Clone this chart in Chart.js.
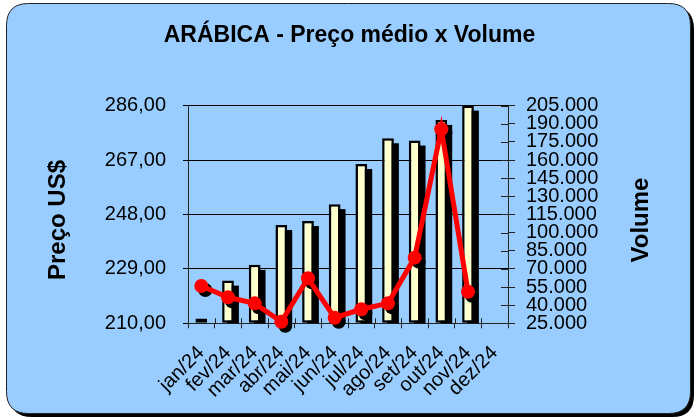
<!DOCTYPE html>
<html>
<head>
<meta charset="utf-8">
<script src="https://cdn.jsdelivr.net/npm/chart.js@4/dist/chart.umd.min.js"></script>
<style>
  html, body { margin: 0; padding: 0; background: #fff; }
  #wrap { width: 694px; height: 420px; }
</style>
</head>
<body>
<div id="wrap"><canvas id="chart" width="694" height="420"></canvas></div>
<script>
// Data
const meses = ['jan/24', 'fev/24', 'mar/24', 'abr/24', 'mai/24', 'jun/24',
               'jul/24', 'ago/24', 'set/24', 'out/24', 'nov/24', 'dez/24'];
const precoMedio = [211.7, 224.9, 230.4, 244.3, 245.7, 251.6, 265.6, 274.6, 273.8, 281.0, 286.0, null];
const volume = [55900, 46500, 41500, 26300, 62200, 29600, 36600, 41500, 79300, 185500, 51100, null];
const precoEixo = { min: 210, max: 286, step: 19 };
const volumeEixo = { min: 25000, max: 205000, step: 15000 };

const FONT = '"Liberation Sans", Arial, sans-serif';

function fmtPreco(v) {
  return v.toFixed(2).replace('.', ',');
}
function fmtVolume(v) {
  return Math.round(v).toString().replace(/\B(?=(\d{3})+(?!\d))/g, '.');
}

function roundRect(ctx, x, y, w, h, r) {
  ctx.beginPath();
  ctx.moveTo(x + r, y);
  ctx.lineTo(x + w - r, y);
  ctx.quadraticCurveTo(x + w, y, x + w, y + r);
  ctx.lineTo(x + w, y + h - r);
  ctx.quadraticCurveTo(x + w, y + h, x + w - r, y + h);
  ctx.lineTo(x + r, y + h);
  ctx.quadraticCurveTo(x, y + h, x, y + h - r);
  ctx.lineTo(x, y + r);
  ctx.quadraticCurveTo(x, y, x + r, y);
  ctx.closePath();
}

// Blue rounded panel behind everything
const panelPlugin = {
  id: 'panel',
  beforeDraw(chart) {
    const ctx = chart.ctx;
    ctx.save();
    ctx.fillStyle = '#fff';
    ctx.fillRect(0, 0, chart.width, chart.height);
    roundRect(ctx, 10, 7, 684, 410, 22);
    ctx.fillStyle = '#000';
    ctx.fill();
    roundRect(ctx, 6.5, 3.5, 684, 410, 22);
    ctx.fillStyle = '#99ccff';
    ctx.fill();
    ctx.lineWidth = 1;
    ctx.strokeStyle = '#222';
    ctx.stroke();
    ctx.restore();
  }
};

// Hard black drop shadow: bars get an offset block, markers use canvas shadow
const shadowPlugin = {
  id: 'dropShadow',
  beforeDatasetDraw(chart, args) {
    const ds = chart.data.datasets[args.index];
    const ctx = chart.ctx;
    ctx.save();
    if (!ds.shadow) return;
    if (args.meta.type === 'bar') {
      const area = chart.chartArea;
      ctx.save();
      ctx.beginPath();
      ctx.rect(area.left, area.top, area.right - area.left, area.bottom - area.top);
      ctx.clip();
      ctx.fillStyle = '#000';
      args.meta.data.forEach(bar => {
        const p = bar.getProps(['x', 'y', 'base', 'width'], true);
        if (p.y == null || isNaN(p.y)) return;
        ctx.fillRect(p.x - p.width / 2 + ds.shadow, p.y + ds.shadow, p.width, p.base - p.y);
      });
      ctx.restore();
    } else {
      ctx.shadowColor = '#000';
      ctx.shadowBlur = 0;
      ctx.shadowOffsetX = ds.shadow;
      ctx.shadowOffsetY = ds.shadow;
    }
  },
  afterDatasetDraw(chart) {
    chart.ctx.restore();
  }
};

// Inner half of the crossing tick marks + rotated axis titles
const axisPlugin = {
  id: 'axisExtras',
  afterDraw(chart) {
    const ctx = chart.ctx;
    const area = chart.chartArea;
    const y2 = chart.scales.y2, x = chart.scales.x;
    ctx.save();
    ctx.strokeStyle = '#222';
    ctx.lineWidth = 1;
    ctx.beginPath();
    y2.ticks.forEach((t, i) => {
      const py = Math.round(y2.getPixelForTick(i)) + 0.5;
      ctx.moveTo(area.right - 7, py);
      ctx.lineTo(area.right, py);
    });
    for (let i = 0; i <= meses.length; i++) {
      const px = Math.round(x.left + (x.width / meses.length) * i) + 0.5;
      ctx.moveTo(px, area.bottom);
      ctx.lineTo(px, area.bottom - 5);
    }
    ctx.stroke();

    ctx.fillStyle = '#000';
    ctx.font = 'bold 24px ' + FONT;
    ctx.textAlign = 'center';
    ctx.textBaseline = 'middle';
    ctx.translate(58, 220);
    ctx.rotate(-Math.PI / 2);
    ctx.fillText('Preço US$', 0, 0);
    ctx.restore();

    ctx.save();
    ctx.fillStyle = '#000';
    ctx.font = 'bold 24px ' + FONT;
    ctx.textAlign = 'center';
    ctx.textBaseline = 'middle';
    ctx.translate(641, 220);
    ctx.rotate(-Math.PI / 2);
    ctx.fillText('Volume', 0, 0);
    ctx.restore();
  }
};

new Chart(document.getElementById('chart'), {
  type: 'bar',
  data: {
    labels: meses,
    datasets: [
      {
        type: 'line',
        label: 'Volume',
        data: volume,
        yAxisID: 'y2',
        borderColor: '#ff0000',
        borderWidth: 5,
        pointRadius: 0,
        tension: 0,
        clip: false,
        order: 1
      },
      {
        type: 'line',
        label: 'Volume (marcadores)',
        data: volume,
        yAxisID: 'y2',
        showLine: false,
        pointRadius: 7,
        pointBackgroundColor: '#ff0000',
        pointBorderColor: '#ff0000',
        pointBorderWidth: 0,
        clip: false,
        shadow: 4,
        order: 2
      },
      {
        label: 'Preço médio',
        data: precoMedio,
        yAxisID: 'y',
        backgroundColor: '#ffffcc',
        borderColor: '#000',
        borderWidth: 2.5,
        borderSkipped: false,
        barPercentage: 0.44,
        categoryPercentage: 1,
        base: precoEixo.min,
        shadow: 5,
        order: 3
      }
    ]
  },
  plugins: [panelPlugin, shadowPlugin, axisPlugin],
  options: {
    responsive: false,
    animation: false,
    layout: { padding: { left: 40, right: 35, top: 0, bottom: 0 } },
    plugins: {
      legend: { display: false },
      tooltip: { enabled: false },
      title: {
        display: true,
        text: 'ARÁBICA - Preço médio x Volume',
        color: '#000',
        font: { family: FONT, size: 23, weight: 'bold' },
        padding: { top: 22, bottom: 56 }
      }
    },
    scales: {
      x: {
        offset: true,
        grid: { display: true, drawOnChartArea: false, offset: true, tickLength: 5, color: '#222' },
        border: { display: true, color: '#222' },
        ticks: {
          color: '#000',
          font: { family: FONT, size: 20 },
          minRotation: 45,
          maxRotation: 45,
          autoSkip: false,
          padding: 13
        },
        afterFit(scale) { scale.height = 96.7; }
      },
      y: {
        position: 'left',
        min: precoEixo.min,
        max: precoEixo.max,
        grid: { color: '#000', lineWidth: 1, tickLength: 5 },
        border: { display: true, color: '#222' },
        ticks: {
          stepSize: precoEixo.step,
          color: '#000',
          font: { family: FONT, size: 20 },
          padding: 17,
          callback: v => fmtPreco(v)
        },
        afterFit(scale) { scale.width = 148; }
      },
      y2: {
        position: 'right',
        min: volumeEixo.min,
        max: volumeEixo.max,
        grid: { drawOnChartArea: false, tickLength: 7, color: '#222' },
        border: { display: true, color: '#222' },
        ticks: {
          stepSize: volumeEixo.step,
          autoSkip: false,
          color: '#000',
          font: { family: FONT, size: 20 },
          padding: 11,
          callback: v => fmtVolume(v)
        },
        afterFit(scale) { scale.width = 151; }
      }
    }
  }
});
</script>
</body>
</html>
